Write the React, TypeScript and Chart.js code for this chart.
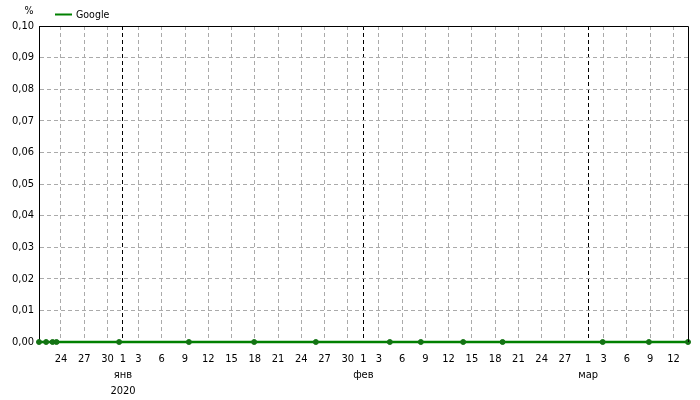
import { useEffect, useRef } from 'react';
import { Chart, registerables } from 'chart.js';
Chart.register(...registerables);

// measurement times and values (all zero in the reference)
const pointTimes = [
  '2019-12-21T04:00', '2019-12-22T02:00', '2019-12-22T22:00', '2019-12-23T10:00',
  '2019-12-31T12:00', '2020-01-09T12:00', '2020-01-17T22:00', '2020-01-25T21:00',
  '2020-02-04T10:00', '2020-02-08T10:00', '2020-02-13T21:00', '2020-02-18T23:00',
  '2020-03-02T21:00', '2020-03-08T20:00', '2020-03-13T21:00',
];
const googleValues = [0, 0, 0, 0, 0, 0, 0, 0, 0, 0, 0, 0, 0, 0, 0];
const seriesLabel = 'Google';

const tickDates = [
  '2019-12-24', '2019-12-27', '2019-12-30',
  '2020-01-01', '2020-01-03', '2020-01-06', '2020-01-09', '2020-01-12', '2020-01-15',
  '2020-01-18', '2020-01-21', '2020-01-24', '2020-01-27', '2020-01-30',
  '2020-02-01', '2020-02-03', '2020-02-06', '2020-02-09', '2020-02-12', '2020-02-15',
  '2020-02-18', '2020-02-21', '2020-02-24', '2020-02-27',
  '2020-03-01', '2020-03-03', '2020-03-06', '2020-03-09', '2020-03-12',
];
const monthNames = ['янв', 'фев', 'мар', 'апр', 'май', 'июн', 'июл', 'авг', 'сен', 'окт', 'ноя', 'дек'];
const yTicks = [0, 0.01, 0.02, 0.03, 0.04, 0.05, 0.06, 0.07, 0.08, 0.09, 0.1];
const unitLabel = '%';

const DAY = 86400000;
const ORIGIN = Date.UTC(2020, 0, 1);
const toDay = (s: string) => (Date.parse(s + (s.length > 10 ? 'Z' : 'T00:00Z')) - ORIGIN) / DAY;
const fromDay = (d: number) => new Date(ORIGIN + Math.round(d * DAY));

const FONT = '"DejaVu Sans Condensed", "DejaVu Sans", sans-serif';
const GREEN = '#008000';

const frame = {
  id: 'frame',
  afterDraw(chart: any) {
    const { ctx, chartArea: a } = chart;
    ctx.save();
    ctx.strokeStyle = '#000';
    ctx.lineWidth = 1;
    ctx.beginPath();
    ctx.moveTo(a.left, a.top + 0.5);
    ctx.lineTo(a.right + 0.5, a.top + 0.5);
    ctx.lineTo(a.right + 0.5, a.bottom);
    ctx.stroke();
    // unit label and legend
    ctx.font = '10.5px ' + FONT;
    ctx.fillStyle = '#000';
    ctx.textBaseline = 'middle';
    ctx.textAlign = 'center';
    ctx.fillText(unitLabel, 29, 11);
    const ds = chart.data.datasets[0];
    ctx.strokeStyle = ds.borderColor;
    ctx.lineWidth = 2;
    ctx.beginPath();
    ctx.moveTo(55, 14.5);
    ctx.lineTo(72, 14.5);
    ctx.stroke();
    ctx.textAlign = 'left';
    ctx.fillStyle = '#000';
    ctx.fillText(ds.label, 76, 15);
    ctx.restore();
  },
};

export default function App() {
  const ref = useRef<HTMLCanvasElement | null>(null);
  useEffect(() => {
    document.body.style.margin = '0';
    if (!ref.current) return;
    const xs = pointTimes.map(toDay);
    const tickDays = tickDates.map(toDay);
    const chart = new Chart(ref.current, {
      type: 'line',
      data: {
        datasets: [{
          label: seriesLabel,
          data: xs.map((x, i) => ({ x, y: googleValues[i] })),
          borderColor: GREEN,
          backgroundColor: '#137313',
          borderWidth: 2.5,
          pointRadius: 2.5,
          pointBorderWidth: 1,
          pointBorderColor: '#137313',
          clip: false,
        }],
      },
      options: {
        animation: false,
        responsive: false,
        devicePixelRatio: 1,
        layout: { padding: { top: 26, left: 12, right: 12, bottom: 0 } },
        plugins: { legend: { display: false }, tooltip: { enabled: false } },
        scales: {
          x: {
            type: 'linear',
            min: Math.min(...xs),
            max: Math.max(...xs),
            afterBuildTicks: (s: any) => { s.ticks = tickDays.map((v) => ({ value: v })); },
            afterFit: (s: any) => { s.height = 58; },
            ticks: {
              autoSkip: false,
              maxRotation: 0,
              padding: 9,
              color: '#000',
              font: { family: FONT, size: 11, lineHeight: '16px' },
              callback: (v: any) => {
                const d = fromDay(Number(v));
                const day = d.getUTCDate();
                if (day !== 1) return String(day);
                const out = ['1', monthNames[d.getUTCMonth()]];
                if (d.getUTCMonth() === 0) out.push(String(d.getUTCFullYear()));
                return out;
              },
            },
            grid: {
              drawTicks: false,
              color: (c: any) => (c.tick && fromDay(c.tick.value).getUTCDate() === 1 ? '#000' : '#aaa'),
            },
            border: { color: '#000', dash: [4, 3] },
          },
          y: {
            min: 0,
            max: 0.1,
            afterBuildTicks: (s: any) => { s.ticks = yTicks.map((v) => ({ value: v })); },
            afterFit: (s: any) => { s.width = 27; },
            ticks: {
              padding: 5,
              color: '#000',
              font: { family: FONT, size: 11 },
              callback: (v: any) => Number(v).toFixed(2).replace('.', ','),
            },
            grid: { drawTicks: false, color: '#aaa' },
            border: { color: '#000', dash: [4, 3] },
          },
        },
      },
      plugins: [frame],
    });
    return () => chart.destroy();
  }, []);
  return <canvas ref={ref} width={700} height={400} style={{ display: 'block', width: 700, height: 400 }} />;
}
